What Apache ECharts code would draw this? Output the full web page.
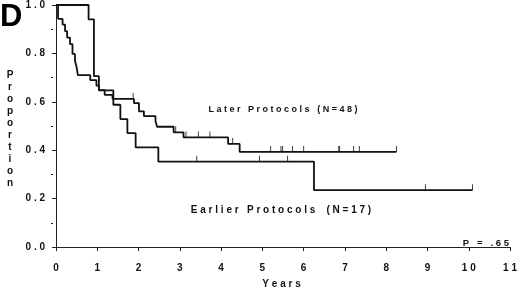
<!DOCTYPE html>
<html>
<head>
<meta charset="utf-8">
<script src="https://cdn.jsdelivr.net/npm/echarts@6/dist/echarts.min.js"></script>
<style>
    html, body { margin: 0; padding: 0; background: #fff; }
    #chart { width: 520px; height: 294px; }
</style>
</head>
<body>
<div id="chart"></div>
<script>
// Kaplan-Meier steps
const laterYears = [0, 0.05, 0.16, 0.22, 0.27, 0.34, 0.40, 0.46, 0.50, 0.53, 0.83, 0.98, 1.04, 1.18, 1.37, 1.89, 2.01, 2.13, 2.41, 2.45, 2.85, 3.09, 4.17, 4.45, 8.25];
const laterSurv = [1.0, 0.943, 0.919, 0.892, 0.865, 0.838, 0.798, 0.770, 0.744, 0.710, 0.690, 0.667, 0.648, 0.629, 0.612, 0.595, 0.561, 0.541, 0.521, 0.497, 0.474, 0.453, 0.426, 0.393, 0.393];
const laterCensored = [1.87, 2.90, 3.15, 3.45, 3.73, 4.28, 5.20, 5.45, 5.49, 5.73, 6.00, 6.85, 6.87, 7.21, 7.35, 8.25];

const earlierYears = [0, 0.79, 0.92, 1.04, 1.39, 1.56, 1.73, 1.93, 2.48, 6.25, 10.09];
const earlierSurv = [1.0, 0.941, 0.706, 0.647, 0.588, 0.529, 0.471, 0.412, 0.353, 0.235, 0.235];
const earlierCensored = [3.41, 4.93, 5.61, 8.95, 10.09];

const xTicks = [0, 1, 2, 3, 4, 5, 6, 7, 8, 9, 10, 11];
const yTicks = [0, 0.2, 0.4, 0.6, 0.8, 1.0];
const yMinorTicks = [0.1, 0.3, 0.5, 0.7, 0.9];

const FONT = 'Liberation Sans';

function spaced(s) {
    return String(s).split('').join(' ');
}

function survAt(years, surv, t) {
    let v = surv[0];
    years.forEach((y, i) => {
        if (y <= t) v = surv[i];
    });
    return v;
}

function stepSeries(years, surv) {
    return {
        type: 'line',
        step: 'end',
        showSymbol: false,
        data: years.map((y, i) => [y, surv[i]]),
        lineStyle: { color: '#111', width: 1.8 },
        silent: true
    };
}

function censorSeries(times, years, surv) {
    return {
        type: 'scatter',
        symbol: 'rect',
        symbolSize: [1, 6],
        symbolOffset: [0, -3],
        itemStyle: { color: '#111' },
        data: times.map((t) => [t, survAt(years, surv, t)]),
        silent: true
    };
}

const labelStyle = { color: '#111', fontFamily: FONT, fontWeight: 'bold', fontSize: 10 };

const chart = echarts.init(document.getElementById('chart'));
chart.setOption({
    animation: false,
    grid: { left: 53, right: 4, top: 5, bottom: 39 },
    xAxis: {
        type: 'value',
        min: -0.072,
        max: 11,
        name: spaced('Years'),
        nameLocation: 'middle',
        nameGap: 29,
        nameTextStyle: labelStyle,
        axisLine: { lineStyle: { color: '#222', width: 1 } },
        axisTick: { customValues: xTicks, length: 4, lineStyle: { color: '#222' } },
        axisLabel: Object.assign({ customValues: xTicks, margin: 13, formatter: (v) => spaced(v) }, labelStyle),
        splitLine: { show: false }
    },
    yAxis: [
        {
            type: 'value',
            min: -0.012,
            max: 1.0,
            axisLine: { show: true, lineStyle: { color: '#222', width: 1 } },
            axisTick: { customValues: yTicks, length: 4, lineStyle: { color: '#222' } },
            axisLabel: Object.assign({ customValues: yTicks, margin: 8, formatter: (v) => spaced(v.toFixed(1)) }, labelStyle),
            splitLine: { show: false }
        },
        {
            type: 'value',
            position: 'left',
            offset: 0,
            min: -0.012,
            max: 1.0,
            axisLine: { show: false },
            axisTick: { show: true, customValues: yMinorTicks, length: 2, lineStyle: { color: '#222' } },
            axisLabel: { show: false },
            splitLine: { show: false }
        }
    ],
    graphic: [
        {
            type: 'text', left: 0, top: 2,
            style: { text: 'D', fontFamily: FONT, fontWeight: 'bold', fontSize: 31, fill: '#000' }
        },
        {
            type: 'text', x: 10, y: 129,
            style: {
                text: 'Proportion'.split('').join('\n'), lineHeight: 12,
                align: 'center', verticalAlign: 'middle',
                fontFamily: FONT, fontWeight: 'bold', fontSize: 10, fill: '#111'
            }
        },
        {
            type: 'text', x: 283, y: 110,
            style: {
                text: spaced('Later Protocols') + '   ' + spaced('(N=48)'),
                align: 'center', verticalAlign: 'middle',
                fontFamily: FONT, fontWeight: 'bold', fontSize: 9, fill: '#111'
            }
        },
        {
            type: 'text', x: 281, y: 210,
            style: {
                text: spaced('Earlier Protocols') + '    ' + spaced('(N=17)'),
                align: 'center', verticalAlign: 'middle',
                fontFamily: FONT, fontWeight: 'bold', fontSize: 10, fill: '#111'
            }
        },
        {
            type: 'text', x: 509, y: 243,
            style: {
                text: 'P   =   . 6 5',
                align: 'right', verticalAlign: 'middle',
                fontFamily: FONT, fontWeight: 'bold', fontSize: 9.5, fill: '#111'
            }
        }
    ],
    series: [
        stepSeries(laterYears, laterSurv),
        stepSeries(earlierYears, earlierSurv),
        censorSeries(laterCensored, laterYears, laterSurv),
        censorSeries(earlierCensored, earlierYears, earlierSurv)
    ]
});
</script>
</body>
</html>
